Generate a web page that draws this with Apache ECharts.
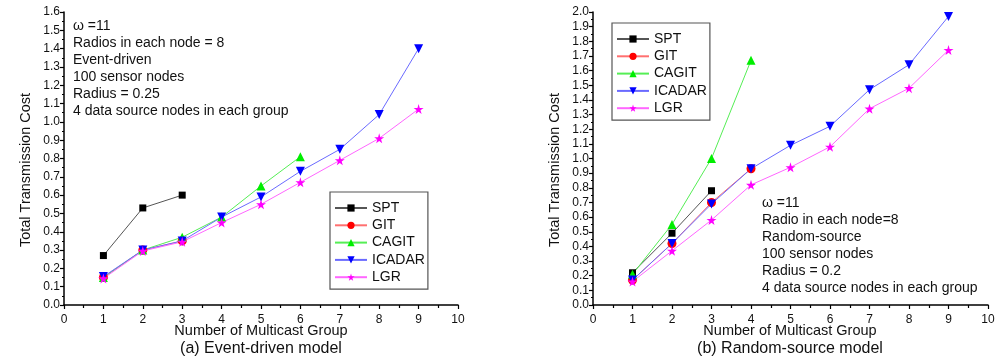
<!DOCTYPE html>
<html><head><meta charset="utf-8">
<script src="https://cdn.jsdelivr.net/npm/echarts@6/dist/echarts.min.js"></script>
<style>html,body{margin:0;padding:0;background:#fff}#c{width:1000px;height:364px}</style>
</head><body><div id="c"></div>
<script>
const groups = [1,2,3,4,5,6,7,8,9];
const seriesNames = ['SPT','GIT','CAGIT','ICADAR','LGR'];
// (a) Event-driven model
const aSPT    = [0.27,0.53,0.60];
const aGIT    = [0.15,0.30,0.35];
const aCAGIT  = [0.15,0.30,0.37,0.48,0.65,0.81];
const aICADAR = [0.155,0.30,0.35,0.48,0.59,0.73,0.85,1.04,1.40];
const aLGR    = [0.145,0.295,0.345,0.45,0.55,0.67,0.79,0.91,1.07];
// (b) Random-source model
const bSPT    = [0.22,0.49,0.78];
const bGIT    = [0.17,0.42,0.70,0.93];
const bCAGIT  = [0.21,0.55,1.00,1.67];
const bICADAR = [0.17,0.42,0.69,0.93,1.09,1.22,1.47,1.64,1.97];
const bLGR    = [0.16,0.37,0.58,0.82,0.94,1.08,1.34,1.48,1.74];
const xTitle = 'Number of Multicast Group';
const yTitle = 'Total Transmission Cost';
const captionA = '(a) Event-driven model';
const captionB = '(b) Random-source model';
const noteA = ['\u03c9 =11','Radios in each node = 8','Event-driven','100 sensor nodes','Radius = 0.25','4 data source nodes in each group'];
const noteB = ['\u03c9 =11','Radio in each node=8','Random-source','100 sensor nodes','Radius = 0.2','4 data source nodes in each group'];

const FONT = 'Liberation Sans, Arial, sans-serif';
const STAR = 'path://M50,0 L61,35 L98,35 L68,57 L79,91 L50,70 L21,91 L32,57 L2,35 L39,35 Z';
const styles = {
  SPT:    {line:'#555555', mark:'#000000', symbol:'rect', size:7, rot:0},
  GIT:    {line:'#ff7070', mark:'#ff0000', symbol:'circle', size:9, rot:0},
  CAGIT:  {line:'#55ee55', mark:'#00ee00', symbol:'triangle', size:9, rot:0},
  ICADAR: {line:'#6a6aff', mark:'#0000ff', symbol:'triangle', size:9, rot:180},
  LGR:    {line:'#ff66ff', mark:'#ff00ff', symbol:STAR, size:10, rot:0}
};
function pairs(arr){ return arr.map((v,i)=>[groups[i],v]); }

function mkSeries(name, arr, idx){
  const s = styles[name];
  return {
    name, type:'line', xAxisIndex:idx, yAxisIndex:idx,
    data: pairs(arr),
    symbol: s.symbol, symbolSize: s.size, symbolRotate: s.rot,
    showAllSymbol:true,
    lineStyle:{color:s.line, width:1},
    itemStyle:{color:s.mark, borderWidth:0},
    emphasis:{disabled:true},
    animation:false, z: 3
  };
}

function xAxis(idx){
  return {gridIndex:idx, type:'value', min:0, max:10, interval:1,
    axisLine:{lineStyle:{color:'#000', width:1.5}},
    axisTick:{show:true, length:4, lineStyle:{color:'#000', width:1.2}},
    minorTick:{show:true, splitNumber:2, length:3, lineStyle:{color:'#000', width:1.2}},
    splitLine:{show:false},
    axisLabel:{color:'#111', fontSize:12, fontFamily:FONT, margin:9}
  };
}
function yAxis(idx, max){
  return {gridIndex:idx, type:'value', min:0, max:max, interval:0.1,
    axisLine:{show:true, lineStyle:{color:'#000', width:1.5}},
    axisTick:{show:true, length:4, lineStyle:{color:'#000', width:1.2}},
    minorTick:{show:true, splitNumber:2, length:2, lineStyle:{color:'#000', width:1.2}},
    splitLine:{show:false},
    axisLabel:{color:'#111', fontSize:12, fontFamily:FONT, margin:4, formatter:v=>v.toFixed(1)}
  };
}

const chart = echarts.init(document.getElementById('c'), null, {renderer:'canvas'});

function legendFor(left, top){
  return {
    show:true, orient:'vertical', left, top,
    data: seriesNames,
    itemWidth:32, itemHeight:9, itemGap:2.3,
    padding:[8.5,3,4.5,4],
    borderColor:'#555', borderWidth:1.2, borderRadius:0,
    textStyle:{color:'#111', fontSize:14, lineHeight:15, fontFamily:FONT, padding:[0,0,0,0]}
  };
}

function noteGraphic(x, y, lines){
  return lines.map((t,i)=>({type:'text', left:x, top:y+i*17,
    style:{text:t, fill:'#111', font:'14px '+FONT}, silent:true}));
}
function txt(text, x, y, size, rot){
  return {type:'text', x:x, y:y, rotation:rot||0,
    style:{text:text, fill:'#111', font:size+'px '+FONT, textAlign:'center', textVerticalAlign:'middle'}, silent:true};
}

const option = {
  animation:false,
  backgroundColor:'#fff',
  grid:[
    {left:64, top:12, width:394, height:293},
    {left:593, top:12, width:395, height:293}
  ],
  xAxis:[xAxis(0), xAxis(1)],
  yAxis:[yAxis(0,1.6), yAxis(1,2.0)],
  legend:[legendFor(330,192), legendFor(612,23)],
  graphic: [].concat(
    noteGraphic(73, 19, noteA),
    noteGraphic(762, 196, noteB),
    [
      txt(yTitle, 26, 170, 14.5, Math.PI/2),
      txt(yTitle, 555, 170, 14.5, Math.PI/2),
      txt(xTitle, 261, 331, 14.5),
      txt(xTitle, 790, 331, 14.5),
      txt(captionA, 261, 349, 16),
      txt(captionB, 790, 349, 16)
    ]
  ),
  series:[
    mkSeries('SPT',aSPT,0), mkSeries('GIT',aGIT,0), mkSeries('CAGIT',aCAGIT,0), mkSeries('ICADAR',aICADAR,0), mkSeries('LGR',aLGR,0),
    mkSeries('SPT',bSPT,1), mkSeries('GIT',bGIT,1), mkSeries('CAGIT',bCAGIT,1), mkSeries('ICADAR',bICADAR,1), mkSeries('LGR',bLGR,1)
  ]
};
chart.setOption(option);
</script></body></html>
